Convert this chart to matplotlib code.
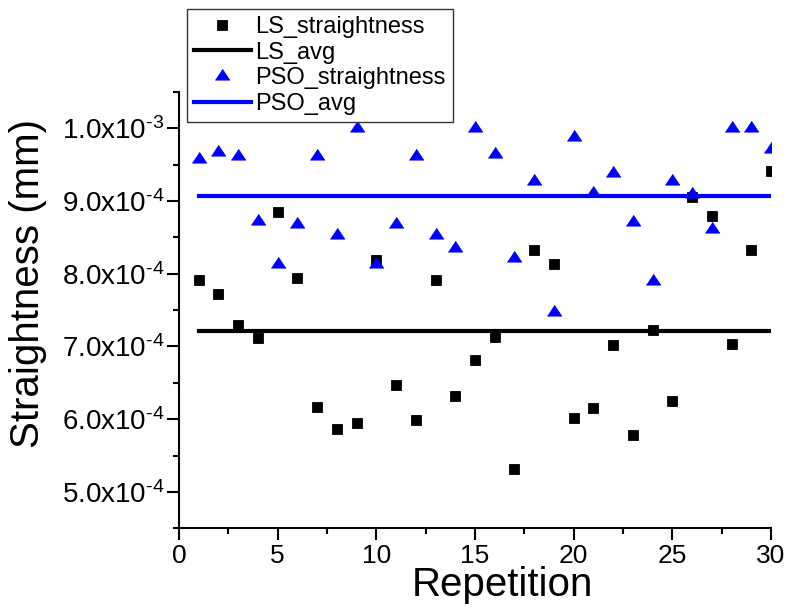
import numpy as np
import matplotlib
matplotlib.use('Agg')
import matplotlib.pyplot as plt
from matplotlib.ticker import MultipleLocator, FuncFormatter

plt.rcParams['font.family'] = ['Liberation Sans', 'DejaVu Sans']
plt.rcParams['mathtext.fontset'] = 'custom'
plt.rcParams['mathtext.rm'] = 'Liberation Sans'
plt.rcParams['mathtext.it'] = 'Liberation Sans:italic'
plt.rcParams['mathtext.bf'] = 'Liberation Sans:bold'

# repetition number and straightness values (x1e-4 mm)
rep = np.arange(1, 31)
ls_straight = np.array([7.92, 7.72, 7.29, 7.12, 8.85, 7.94, 6.17, 5.86, 5.95, 8.19,
                        6.47, 5.99, 7.91, 6.32, 6.82, 7.13, 5.31, 8.32, 8.13, 6.02,
                        6.16, 7.02, 5.78, 7.23, 6.25, 9.06, 8.80, 7.04, 8.33, 9.41]) * 1e-4
pso_straight = np.array([9.58, 9.67, 9.62, 8.73, 8.13, 8.69, 9.62, 8.53, 10.0, 8.13,
                         8.69, 9.62, 8.53, 8.35, 10.0, 9.65, 8.21, 9.27, 7.47, 9.88,
                         9.11, 9.38, 8.71, 7.90, 9.28, 9.09, 8.61, 10.0, 10.0, 9.72]) * 1e-4

ls_avg = ls_straight.mean()
pso_avg = pso_straight.mean()

# flat triangle, origin at centroid
tri = [(-1, -0.5), (1, -0.5), (0, 1.0)]

fig = plt.figure(figsize=(7.93, 6.08), dpi=100)
ax = fig.add_axes([179/793, 1-528.3/608, 592/793, 436.4/608])

ax.plot(rep, ls_straight, 's', color='k', ms=7, mec='k', mew=0.6, ls='none',
        label='LS_straightness')
ax.plot([rep[0], rep[-1]], [ls_avg, ls_avg], color='k', lw=3, label='LS_avg')
ax.plot(rep, pso_straight, marker=tri, ls='none', color='#0000ff', ms=10.5,
        mew=0.5, label='PSO_straightness')
ax.plot([rep[0], rep[-1]], [pso_avg, pso_avg], color='#0000ff', lw=3, label='PSO_avg')

ax.set_xlim(0, 30)
ax.set_ylim(4.5e-4, 1.05e-3)
ax.spines['top'].set_visible(False)
ax.spines['right'].set_visible(False)
for s in ['left', 'bottom']:
    ax.spines[s].set_linewidth(1.5)

ax.xaxis.set_major_locator(MultipleLocator(5))
ax.xaxis.set_minor_locator(MultipleLocator(2.5))
ax.yaxis.set_major_locator(MultipleLocator(1e-4))
ax.yaxis.set_minor_locator(MultipleLocator(5e-5))


def sci_fmt(v, pos):
    e = int(np.floor(np.log10(v) + 1e-9))
    m = v / 10**e
    # hyphen-style exponent sign, like the original
    return '$\\mathregular{%.1fx10^{\u2010%d}}$' % (m, -e)


ax.yaxis.set_major_formatter(FuncFormatter(sci_fmt))
ax.tick_params(which='major', direction='out', length=8.5, width=1.5)
ax.tick_params(which='minor', direction='out', length=4.5, width=1.5)
ax.tick_params(axis='x', pad=3, labelsize=19)
ax.tick_params(axis='y', pad=2, labelsize=20)

fig.text(28/793, 1-283/608, 'Straightness (mm)', rotation=90, ha='center',
         va='center', fontsize=29)
fig.text(502/793, 1-596/608, 'Repetition', ha='center', va='baseline', fontsize=29)

leg = fig.legend(loc='upper left', bbox_to_anchor=(187/793, 1-9/608), borderaxespad=0,
                 fontsize=17, fancybox=False, edgecolor='#333333', framealpha=1,
                 handlelength=2.4, handletextpad=0.2, labelspacing=0.155,
                 borderpad=0.3, numpoints=1)
leg.get_frame().set_linewidth(1.0)

fig.savefig('out.png', dpi=100)
plt.close()
